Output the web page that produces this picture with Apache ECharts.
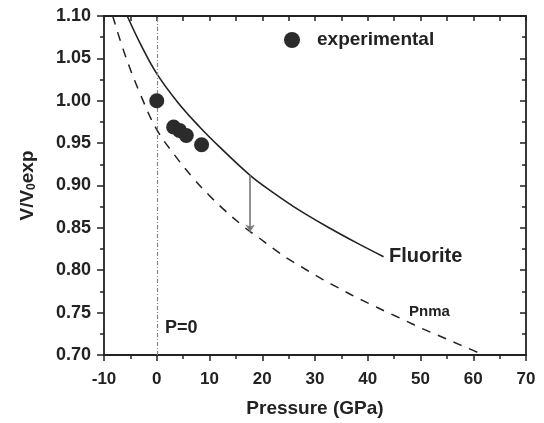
<!DOCTYPE html>
<html>
<head>
<meta charset="utf-8">
<script src="https://cdn.jsdelivr.net/npm/echarts@6/dist/echarts.min.js"></script>
<style>
  html, body { margin: 0; padding: 0; background: #fff; }
  #chart { width: 544px; height: 423px; }
</style>
</head>
<body>
<div id="chart"></div>
<script>
// Relative volume V/V0 versus pressure for the two phases, plus measurements.
const fluoritePressure = [-5.6, -3, 0, 4, 8, 12, 17.7, 22, 27, 33, 38, 43];
const fluoriteVolume   = [1.100, 1.066, 1.032, 0.998, 0.970, 0.945, 0.912, 0.892, 0.871, 0.849, 0.832, 0.816];

const pnmaPressure = [-8.35, -6, -3, 0, 3.5, 7, 10, 13, 16, 17.7, 19, 22, 25, 28.5, 31.5, 34.5, 37.5, 40.5, 43.5, 47, 50, 53, 56, 59, 62];
const pnmaVolume   = [1.100, 1.054, 1.006, 0.966, 0.935, 0.908, 0.888, 0.870, 0.854, 0.8455, 0.840, 0.826, 0.813, 0.800, 0.789, 0.779, 0.769, 0.760, 0.751, 0.741, 0.732, 0.724, 0.716, 0.708, 0.700];

const expPressure = [0, 3.2, 4.3, 5.6, 8.5];
const expVolume   = [1.000, 0.969, 0.965, 0.959, 0.948];

// Pressure at which the transition arrow is drawn between the two curves
const arrowPressure = 17.7;
const arrowFrom = 0.912;   // Fluorite curve
const arrowTo = 0.8455;    // Pnma curve

const xTicks = { min: -10, max: 70, step: 10 };
const yTicks = { min: 0.70, max: 1.10, step: 0.05 };

const zip = (xs, ys) => xs.map((x, i) => [x, ys[i]]);

const FONT = "'Liberation Sans', Arial, Helvetica, sans-serif";
const INK = '#222';

const chart = echarts.init(document.getElementById('chart'), null, { renderer: 'canvas' });

const axisLine = { show: true, onZero: false, lineStyle: { color: INK, width: 1.8 } };

const option = {
  animation: false,
  backgroundColor: '#fff',
  grid: { left: 104, right: 18, top: 16, bottom: 68, containLabel: false },
  legend: {
    data: ['experimental'],
    left: 284,
    top: 29,
    padding: 0,
    itemWidth: 40,
    itemHeight: 16,
    textStyle: { fontFamily: FONT, fontSize: 19, fontWeight: 'bold', color: INK, lineHeight: 22 }
  },
  xAxis: [
    {
      type: 'value', position: 'bottom',
      min: xTicks.min, max: xTicks.max, interval: xTicks.step,
      name: 'Pressure (GPa)', nameLocation: 'middle', nameGap: 44,
      nameTextStyle: { fontFamily: FONT, fontSize: 19, fontWeight: 'bold', color: INK },
      axisLine: axisLine,
      axisTick: { show: true, inside: false, length: 6, lineStyle: { color: INK, width: 1.5 } },
      minorTick: { show: true, splitNumber: 2, length: 4, lineStyle: { color: INK, width: 1.5 } },
      axisLabel: { fontFamily: FONT, fontSize: 17, fontWeight: 'bold', color: INK, margin: 16 },
      splitLine: { show: false }
    },
    {
      type: 'value', position: 'top',
      min: xTicks.min, max: xTicks.max, interval: xTicks.step,
      axisLine: axisLine,
      axisTick: { show: true, inside: true, length: 5, lineStyle: { color: INK, width: 1.5 } },
      minorTick: { show: true, splitNumber: 2, length: 5, lineStyle: { color: INK, width: 1.5 } },
      axisLabel: { show: false },
      splitLine: { show: false }
    }
  ],
  yAxis: [
    {
      type: 'value', position: 'left',
      min: yTicks.min, max: yTicks.max, interval: yTicks.step,
      name: '{a|V/V}{b|0}{a|exp}', nameLocation: 'middle', nameRotate: 90, nameGap: 66,
      nameTextStyle: {
        rich: {
          a: { fontFamily: FONT, fontSize: 19, fontWeight: 'bold', color: INK },
          b: { fontFamily: FONT, fontSize: 12, fontWeight: 'bold', color: INK, verticalAlign: 'bottom', padding: [9, 0, 0, 0] }
        }
      },
      axisLine: axisLine,
      axisTick: { show: true, inside: false, length: 7, lineStyle: { color: INK, width: 1.5 } },
      minorTick: { show: true, splitNumber: 2, length: 4, lineStyle: { color: INK, width: 1.5 } },
      axisLabel: {
        fontFamily: FONT, fontSize: 18, fontWeight: 'bold', color: INK, margin: 13,
        formatter: v => v.toFixed(2)
      },
      splitLine: { show: false }
    },
    {
      type: 'value', position: 'right',
      min: yTicks.min, max: yTicks.max, interval: yTicks.step,
      axisLine: axisLine,
      axisTick: { show: true, inside: true, length: 6, lineStyle: { color: INK, width: 1.5 } },
      minorTick: { show: true, splitNumber: 2, length: 4, lineStyle: { color: INK, width: 1.5 } },
      axisLabel: { show: false },
      splitLine: { show: false }
    }
  ],
  series: [
    {
      name: 'Fluorite',
      type: 'line',
      data: zip(fluoritePressure, fluoriteVolume),
      smooth: 0.4,
      symbol: 'none',
      clip: true,
      lineStyle: { color: INK, width: 1.6 },
      markLine: {
        silent: true,
        symbol: ['none', 'arrow'],
        symbolSize: 7,
        label: { show: false },
        itemStyle: { color: '#333' },
        lineStyle: { color: '#777', width: 1.6, type: 'solid' },
        data: [[
          { coord: [arrowPressure, arrowFrom] },
          { coord: [arrowPressure, arrowTo] }
        ]]
      }
    },
    {
      name: 'Pnma',
      type: 'line',
      data: zip(pnmaPressure, pnmaVolume),
      smooth: 0.4,
      symbol: 'none',
      clip: true,
      lineStyle: { color: INK, width: 1.5, type: [9, 8] }
    },
    {
      name: 'experimental',
      type: 'scatter',
      data: zip(expPressure, expVolume),
      symbol: 'circle',
      symbolSize: 15,
      itemStyle: { color: '#2b2b2b', opacity: 1 },
      z: 5,
      markLine: {
        silent: true,
        symbol: 'none',
        label: { show: false },
        lineStyle: { color: '#888', width: 1.2, type: [4, 2, 1, 2] },
        data: [{ xAxis: 0 }]
      }
    }
  ],
  graphic: [
    { type: 'text', left: 389, top: 246, style: { text: 'Fluorite', font: "bold 20px " + FONT, fill: INK } },
    { type: 'text', left: 409, top: 304, style: { text: 'Pnma', font: "bold 15px " + FONT, fill: INK } },
    { type: 'text', left: 165, top: 319, style: { text: 'P=0', font: "bold 18px " + FONT, fill: INK } }
  ]
};

chart.setOption(option);
</script>
</body>
</html>
